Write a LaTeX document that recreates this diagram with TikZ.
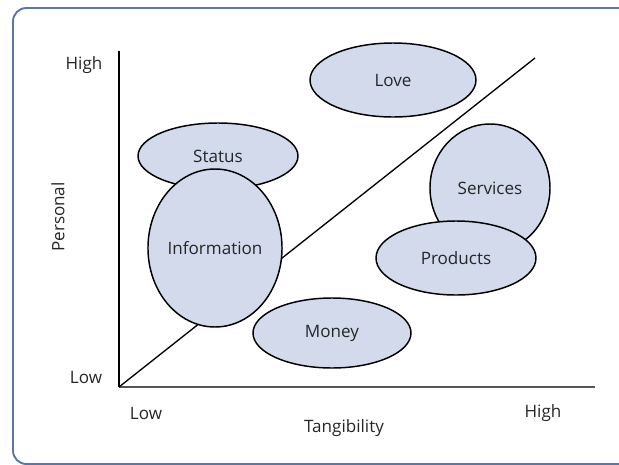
\documentclass[tikz,border=0pt]{standalone}
\usepackage{fontspec}
\setmainfont{Open Sans}
\usetikzlibrary{shapes.geometric}
\definecolor{blobfill}{HTML}{D3DAEC}
\definecolor{framecol}{HTML}{5A76A8}
\definecolor{xaxiscol}{HTML}{555555}
\begin{document}
\begin{tikzpicture}[x=0.75pt,y=-0.75pt,
  blob/.style={ellipse, draw=black, line width=1.1pt, fill=blobfill, inner sep=0pt, text=black!85, font=\fontsize{12.8}{15}\selectfont},
  lbl/.style={font=\fontsize{12.8}{15}\selectfont, text=black!85, inner sep=0pt}]
\useasboundingbox (0,0) rectangle (619,465);
\clip (0,0) rectangle (619,465);
\draw[framecol, line width=1.4pt, rounded corners=10pt] (13,8) rectangle (700,464);
% axes
\coordinate (origin) at (119,387);
\coordinate (ytop) at (119,51);
\coordinate (xend) at (595,387);
\coordinate (dtop) at (535,58);
\draw[line width=1.1pt, black] (ytop) -- (origin);
\draw[line width=2pt, xaxiscol] (origin) -- (xend);
\draw[line width=1pt, black] (origin) -- (dtop);
% ellipses
\node[blob, minimum width=120pt, minimum height=49.5pt] (status) at (218,156) {Status};
\node[blob, minimum width=93pt, minimum height=118.5pt] (info) at (215,248) {Information};
\node[blob, minimum width=124.5pt, minimum height=55.5pt] (love) at (393,80) {Love};
\node[blob, minimum width=90pt, minimum height=96pt] (services) at (490,188) {Services};
\node[blob, minimum width=120pt, minimum height=55.5pt] (products) at (456,258) {Products};
\node[blob, minimum width=118.5pt, minimum height=52.5pt] (money) at (332,333) {Money};
% labels
\node[lbl] (yhigh) at (84,65) {High};
\node[lbl] (ylow) at (86,377) {Low};
\node[lbl, rotate=90] (ylabel) at (58,217) {Personal};
\node[lbl] (xlow) at (146,413) {Low};
\node[lbl] (xhigh) at (543,413) {High};
\node[lbl] (xlabel) at (344,428) {Tangibility};
\end{tikzpicture}
\end{document}
